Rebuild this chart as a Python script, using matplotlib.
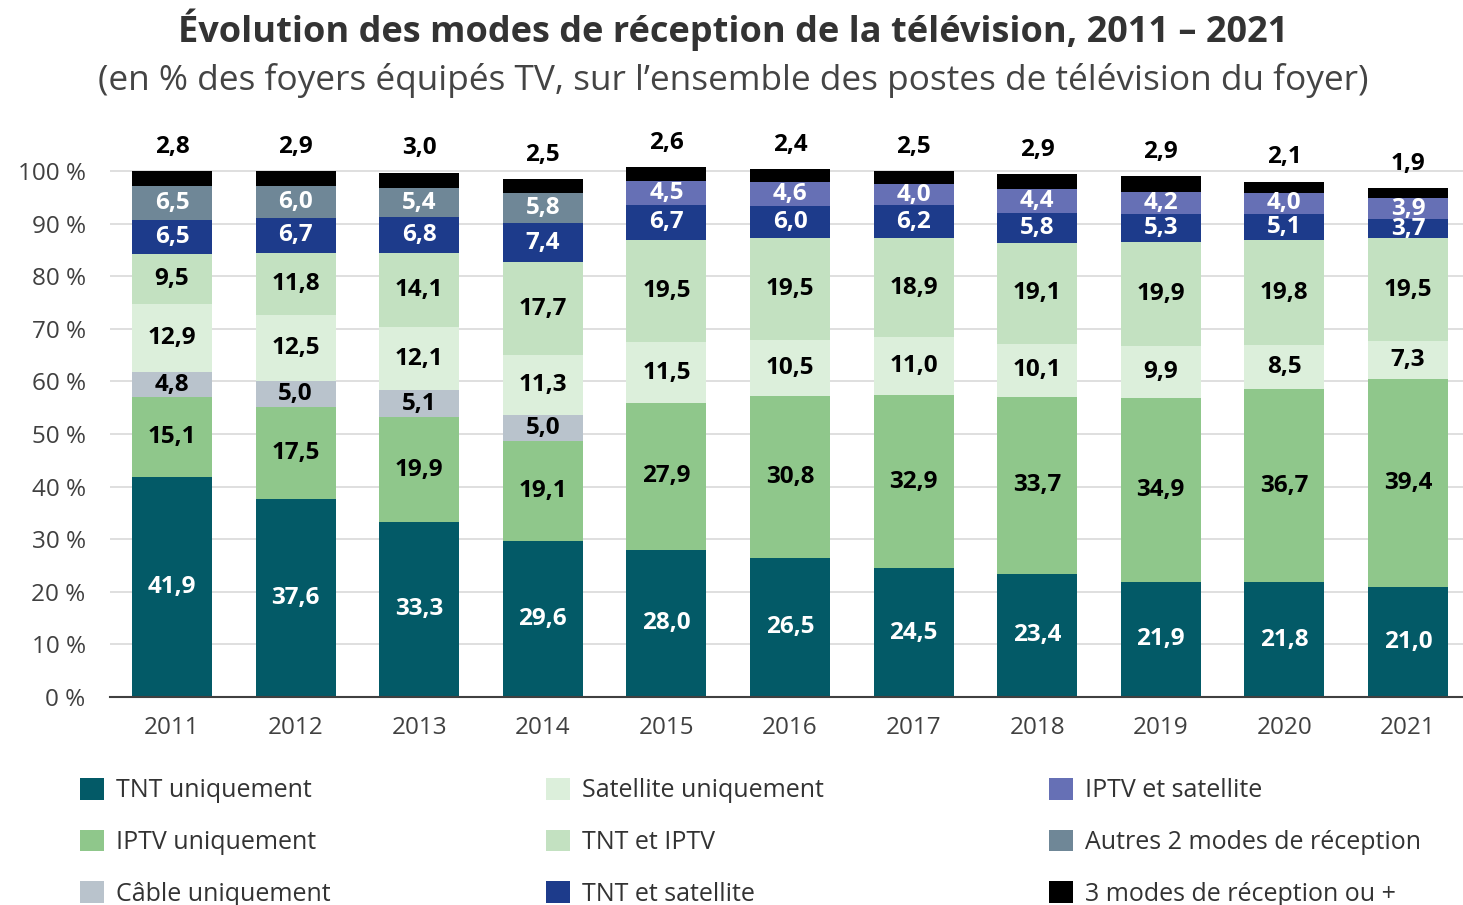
import matplotlib
matplotlib.use("Agg")
import matplotlib.pyplot as plt
import numpy as np
from matplotlib.patches import Patch

plt.rcParams['font.family'] = ['Open Sans', 'DejaVu Sans']

years = ["2011", "2012", "2013", "2014", "2015", "2016", "2017", "2018", "2019", "2020", "2021"]
nan = np.nan
tnt_uniq = [41.9, 37.6, 33.3, 29.6, 28.0, 26.5, 24.5, 23.4, 21.9, 21.8, 21.0]
iptv_uniq = [15.1, 17.5, 19.9, 19.1, 27.9, 30.8, 32.9, 33.7, 34.9, 36.7, 39.4]
cable_uniq = [4.8, 5.0, 5.1, 5.0, nan, nan, nan, nan, nan, nan, nan]
sat_uniq = [12.9, 12.5, 12.1, 11.3, 11.5, 10.5, 11.0, 10.1, 9.9, 8.5, 7.3]
tnt_iptv = [9.5, 11.8, 14.1, 17.7, 19.5, 19.5, 18.9, 19.1, 19.9, 19.8, 19.5]
tnt_sat = [6.5, 6.7, 6.8, 7.4, 6.7, 6.0, 6.2, 5.8, 5.3, 5.1, 3.7]
iptv_sat = [nan, nan, nan, nan, 4.5, 4.6, 4.0, 4.4, 4.2, 4.0, 3.9]
autres2 = [6.5, 6.0, 5.4, 5.8, nan, nan, nan, nan, nan, nan, nan]
trois_modes = [2.8, 2.9, 3.0, 2.5, 2.6, 2.4, 2.5, 2.9, 2.9, 2.1, 1.9]

series_names = ["TNT uniquement", "IPTV uniquement", "Câble uniquement",
                "Satellite uniquement", "TNT et IPTV", "TNT et satellite",
                "IPTV et satellite", "Autres 2 modes de réception",
                "3 modes de réception ou +"]
series_vals = [tnt_uniq, iptv_uniq, cable_uniq, sat_uniq, tnt_iptv, tnt_sat,
               iptv_sat, autres2, trois_modes]
colors = ["#035a67", "#8fc78b", "#b9c3cc", "#dcefdb", "#c3e1c1", "#1d3b8b",
          "#6670b5", "#6f8797", "#000000"]
label_colors = ["white", "black", "black", "black", "black", "white", "white", "white", None]

fig = plt.figure(figsize=(14.63, 9.05), dpi=100)
ax = fig.add_axes([110 / 1463, 1 - 697 / 905, 1 - 110 / 1463, (697 - 130) / 905])

x = np.arange(len(years))
width = 0.647
bottom = np.zeros(len(years))
for name, vals, col, lc in zip(series_names, series_vals, colors, label_colors):
    v = np.nan_to_num(np.array(vals, dtype=float))
    ax.bar(x, v, width, bottom=bottom, color=col, label=name, zorder=3, linewidth=0)
    for i, val in enumerate(vals):
        if np.isnan(val):
            continue
        txt = f"{val:.1f}".replace(".", ",")
        if lc is None:
            ax.text(x[i], bottom[i] + v[i] + 4.6, txt, ha="center", va="center",
                    fontsize=17.5, fontweight="bold", color="black", zorder=4)
        else:
            ax.text(x[i], bottom[i] + v[i] / 2, txt, ha="center", va="center",
                    fontsize=17.5, fontweight="bold", color=lc, zorder=4)
    bottom = bottom + v

ax.set_xlim(-0.502, 10.445)
ax.set_ylim(0, 107.8)
ax.set_yticks(np.arange(0, 101, 10))
ax.set_yticklabels([f"{t} %" for t in range(0, 101, 10)])
ax.set_xticks(x)
ax.set_xticklabels(years)
ax.tick_params(axis="both", length=0, labelsize=17.5, colors="#404040")
ax.tick_params(axis="x", pad=14)
ax.tick_params(axis="y", pad=17.5)
ax.yaxis.grid(True, color="#d9d9d9", linewidth=1.2, zorder=0)
ax.set_axisbelow(True)
for s in ["top", "right", "left"]:
    ax.spines[s].set_visible(False)
ax.spines["bottom"].set_color("#404040")
ax.spines["bottom"].set_linewidth(1.5)
ax.spines["bottom"].set_zorder(5)

fig.text(733 / 1463, 1 - 30 / 905, "Évolution des modes de réception de la télévision, 2011 – 2021",
         ha="center", va="center", fontsize=26, fontweight="bold", color="#333333")
fig.text(733 / 1463, 1 - 80 / 905,
         "(en % des foyers équipés TV, sur l’ensemble des postes de télévision du foyer)",
         ha="center", va="center", fontsize=25.4, color="#444444")

handles = [Patch(facecolor=c, edgecolor="none") for c in colors]
col_x = [80, 546, 1049]
for k in range(3):
    hs = handles[3 * k:3 * k + 3]
    ls = series_names[3 * k:3 * k + 3]
    fig.legend(hs, ls, loc="upper left", bbox_to_anchor=(col_x[k] / 1463, 1 - 778 / 905),
               frameon=False, fontsize=18, handlelength=0.95, handleheight=0.95,
               handletextpad=0.5, labelspacing=1.05, borderpad=0, borderaxespad=0,
               labelcolor="#333333")

fig.savefig("out.png", dpi=100)
